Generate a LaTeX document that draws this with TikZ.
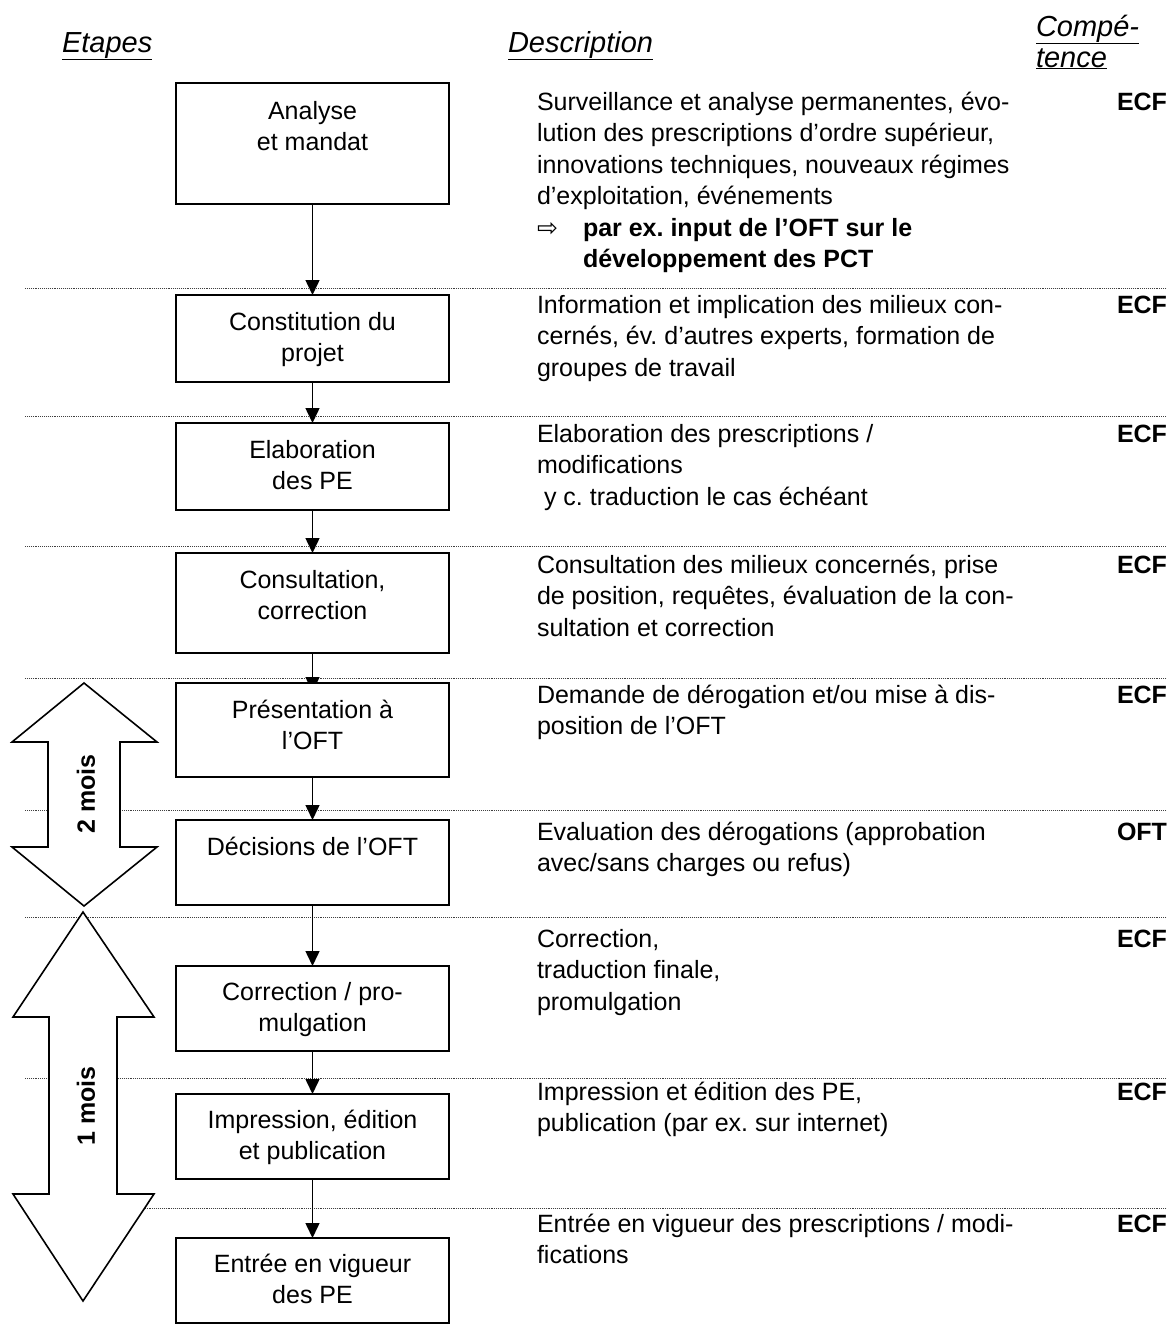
\documentclass[tikz,border=0pt]{standalone}
\usepackage{fontspec}
\setmainfont{Liberation Sans}
\newfontfamily\symfont{DejaVu Sans}
\usetikzlibrary{arrows.meta}
\newcommand\stt{\rule{0pt}{24pt}}
\frenchspacing
\begin{document}
\begin{tikzpicture}[x=1pt,y=-1pt,
  every node/.style={inner sep=0pt, outer sep=0pt},
  fnt/.style={font=\fontsize{25}{31.5}\selectfont},
  hdr/.style={font=\fontsize{29}{32}\selectfont\itshape},
  stepbox/.style={draw, line width=1.6pt, fill=white, minimum width=273pt, anchor=north west},
  boxtext/.style={fnt, align=center, anchor=north},
  desc/.style={fnt, align=left, anchor=north west},
  comp/.style={font=\fontsize{25}{31.5}\selectfont\bfseries, anchor=base east},
  arr/.style={line width=1.5pt, -{Triangle[length=15pt,width=14pt]}},
  sep/.style={densely dotted, line width=0.9pt, black!75},
  bigarrow/.style={draw, line width=1.6pt, fill=white, line join=miter}
]
\useasboundingbox (0,0) rectangle (1167,1331);

% headers
\node[hdr, anchor=base west] (h1) at (62,52) {\underline{Etapes}};
\node[hdr, anchor=base west] (h2) at (508,52) {\underline{Description}};
\node[hdr, anchor=base west] (h3) at (1036,36) {\underline{Compé-}};
\node[hdr, anchor=base west] (h4) at (1036,67) {\underline{tence}};

% dotted separators
\foreach \yy in {288,416,546,678,810,917,1078,1208}
  \draw[sep] (25,\yy) -- (1167,\yy);

% big double arrows
\draw[bigarrow] (84,683) -- (157,742) -- (120,742) -- (120,847) -- (157,847) -- (84,906)
  -- (12,847) -- (48,847) -- (48,742) -- (12,742) -- cycle;
\node[font=\fontsize{25}{30}\selectfont\bfseries, rotate=90] (m2) at (86,794) {2 mois};
\draw[bigarrow] (83,912) -- (154,1017) -- (117,1017) -- (117,1194) -- (154,1194) -- (83,1301)
  -- (13,1194) -- (49,1194) -- (49,1017) -- (13,1017) -- cycle;
\node[font=\fontsize{25}{30}\selectfont\bfseries, rotate=90] (m1) at (86,1106) {1 mois};

% boxes
\node[stepbox, minimum height=121pt] (c1) at (176,83) {};
\node[stepbox, minimum height=87pt] (c2) at (176,295) {};
\node[stepbox, minimum height=87pt] (c3) at (176,423) {};
\node[stepbox, minimum height=100pt] (c4) at (176,553) {};
\node[stepbox, minimum height=94pt] (c5) at (176,683) {};
\node[stepbox, minimum height=85pt] (c6) at (176,820) {};
\node[stepbox, minimum height=85pt] (c7) at (176,966) {};
\node[stepbox, minimum height=85pt] (c8) at (176,1094) {};
\node[stepbox, minimum height=85pt] (c9) at (176,1238) {};

% connectors
\draw[arr] (c1.south) -- (c2.north);
\draw[arr] (c2.south) -- (c3.north);
\draw[arr] (c3.south) -- (c4.north);
\draw[arr] (c4.south) -- ([yshift=-9pt]c5.north);
\draw[arr] (c5.south) -- (c6.north);
\draw[arr] (c6.south) -- (c7.north);
\draw[arr] (c7.south) -- (c8.north);
\draw[arr] (c8.south) -- (c9.north);

% box 5 again, over the hidden arrow tip
\node[stepbox, minimum height=94pt] (c5b) at (176,683) {};

% box texts
\node[boxtext] (t1) at ([yshift=-12pt]c1.north) {\stt Analyse\\et mandat};
\node[boxtext] (t2) at ([yshift=-11pt]c2.north) {\stt Constitution du\\projet};
\node[boxtext] (t3) at ([yshift=-11pt]c3.north) {\stt Elaboration\\des PE};
\node[boxtext] (t4) at ([yshift=-11pt]c4.north) {\stt Consultation,\\correction};
\node[boxtext] (t5) at ([yshift=-11pt]c5.north) {\stt Présentation à\\l’OFT};
\node[boxtext] (t6) at ([yshift=-11pt]c6.north) {\stt Décisions de l’OFT};
\node[boxtext] (t7) at ([yshift=-10pt]c7.north) {\stt Correction / pro-\\mulgation};
\node[boxtext] (t8) at ([yshift=-10pt]c8.north) {\stt Impression, édition\\et publication};
\node[boxtext] (t9) at ([yshift=-10pt]c9.north) {\stt Entrée en vigueur\\des PE};

% descriptions
\node[desc] (d1) at (537,86) {\stt Surveillance et analyse permanentes, évo-\\
lution des prescriptions d'ordre supérieur,\\
innovations techniques, nouveaux régimes\\
d’exploitation, événements\\
\makebox[46pt][l]{\symfont ⇨}\textbf{par ex. input de l’OFT sur le}\\
\hspace*{46pt}\textbf{développement des PCT}};
\node[desc] (d2) at (537,289) {\stt Information et implication des milieux con-\\
cernés, év. d’autres experts, formation de\\
groupes de travail};
\node[desc] (d3) at (537,418) {\stt Elaboration des prescriptions /\\
modifications\\
\hspace*{7pt}y c. traduction le cas échéant};
\node[desc] (d4) at (537,549) {\stt Consultation des milieux concernés, prise\\
de position, requêtes, évaluation de la con-\\
sultation et correction};
\node[desc] (d5) at (537,679) {\stt Demande de dérogation et/ou mise à dis-\\
position de l’OFT};
\node[desc] (d6) at (537,816) {\stt Evaluation des dérogations (approbation\\
avec/sans charges ou refus)};
\node[desc] (d7) at (537,923) {\stt Correction,\\
traduction finale,\\
promulgation};
\node[desc] (d8) at (537,1076) {\stt Impression et édition des PE,\\
publication (par ex. sur internet)};
\node[desc] (d9) at (537,1208) {\stt Entrée en vigueur des prescriptions / modi-\\
fications};

% competence
\node[comp] (k1) at (1167,110) {ECF};
\node[comp] (k2) at (1167,313) {ECF};
\node[comp] (k3) at (1167,442) {ECF};
\node[comp] (k4) at (1167,573) {ECF};
\node[comp] (k5) at (1167,703) {ECF};
\node[comp] (k6) at (1167,840) {OFT};
\node[comp] (k7) at (1167,947) {ECF};
\node[comp] (k8) at (1167,1100) {ECF};
\node[comp] (k9) at (1167,1232) {ECF};
\end{tikzpicture}
\end{document}
